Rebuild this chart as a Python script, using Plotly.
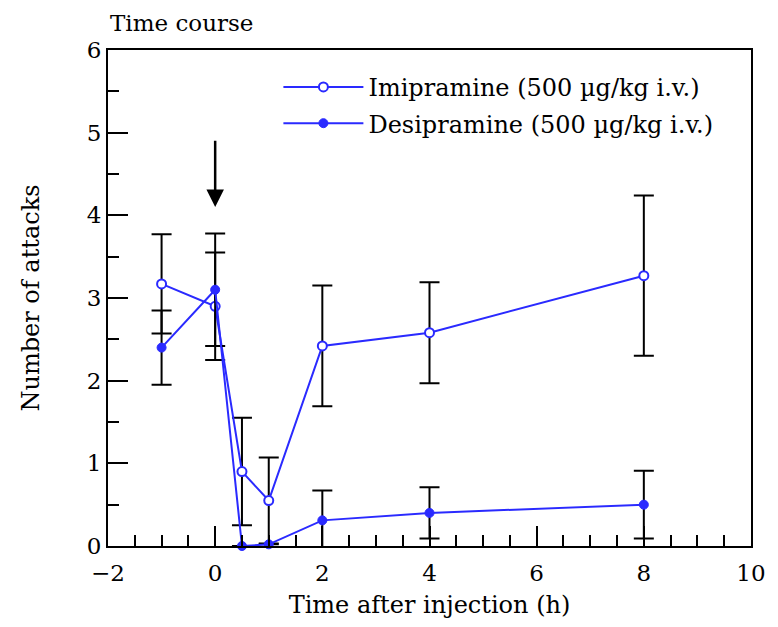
import plotly.graph_objects as go

time_h = [-1, 0, 0.5, 1, 2, 4, 8]
imipramine = [3.17, 2.9, 0.9, 0.55, 2.42, 2.58, 3.27]
imipramine_err = [0.6, 0.65, 0.65, 0.52, 0.73, 0.61, 0.97]
desipramine = [2.4, 3.1, 0.0, 0.02, 0.31, 0.4, 0.5]
desipramine_err = [0.45, 0.68, 0.0, 0.0, 0.36, 0.31, 0.41]

names = ["Imipramine (500 \u00b5g/kg i.v.)", "Desipramine (500 \u00b5g/kg i.v.)"]
blue = "#2a2aff"
font = "DejaVu Serif"

fig = go.Figure()
fig.add_trace(go.Scatter(
    x=time_h, y=imipramine, name=names[0], mode="lines+markers",
    legendgroup="a",
    line=dict(color=blue, width=2),
    marker=dict(symbol="circle", size=9, color="white", line=dict(color=blue, width=2)),
    error_y=dict(type="data", array=imipramine_err, color="black", thickness=2, width=10),
    cliponaxis=False,
))
fig.add_trace(go.Scatter(
    x=time_h, y=desipramine, name=names[1], mode="lines+markers",
    legendgroup="b",
    line=dict(color=blue, width=2),
    marker=dict(symbol="circle", size=9, color=blue, line=dict(color=blue, width=1)),
    error_y=dict(type="data", array=desipramine_err, color="black", thickness=2, width=10),
    cliponaxis=False,
))

fig.add_annotation(x=0, y=4.1, ax=0, ay=4.92, xref="x", yref="y", axref="x", ayref="y",
                   showarrow=True, arrowhead=2, arrowsize=1.4, arrowwidth=2.5, arrowcolor="black", text="")

fig.add_annotation(x=0, y=1, xref="paper", yref="paper", xanchor="left", yanchor="bottom",
                   yshift=12, text="Time course", showarrow=False,
                   font=dict(family=font, size=23, color="black"))

axis_common = dict(showline=True, linecolor="black", linewidth=2, mirror=True,
                   ticks="inside", ticklen=20, tickwidth=2, tickcolor="black",
                   showgrid=False, zeroline=False,
                   tickfont=dict(family=font, size=23, color="black"))

fig.update_xaxes(range=[-2, 10], dtick=2, tick0=-2, ticklabelstandoff=5,
                 minor=dict(dtick=0.5, ticklen=11, tickwidth=2, tickcolor="black", ticks="inside"),
                 title=dict(text="Time after injection (h)", font=dict(family=font, size=24, color="black"), standoff=12),
                 **axis_common)
fig.update_yaxes(range=[0, 6], dtick=1,
                 minor=dict(dtick=0.5, ticklen=11, tickwidth=2, tickcolor="black", ticks="inside"),
                 title=dict(text="Number of attacks", font=dict(family=font, size=24, color="black"), standoff=40),
                 **axis_common)

fig.update_layout(
    width=778, height=627,
    margin=dict(l=108, r=25, t=50, b=81),
    plot_bgcolor="white", paper_bgcolor="white",
    showlegend=True,
    legend=dict(x=0.265, y=0.97, xanchor="left", yanchor="top", bgcolor="rgba(0,0,0,0)",
                font=dict(family=font, size=24, color="black"), tracegroupgap=2,
                traceorder="grouped", itemwidth=80),
)

fig.write_html("out.html")
